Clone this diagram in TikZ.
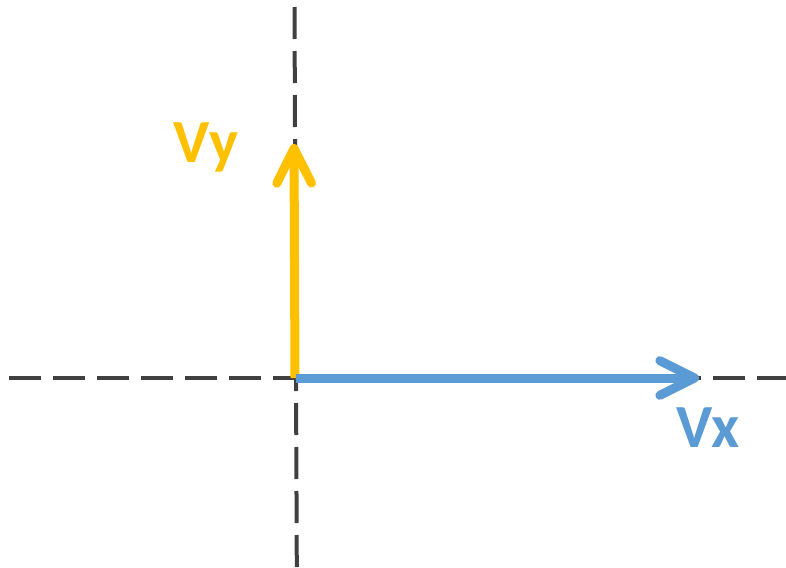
\documentclass[tikz,border=0pt]{standalone}
\usepackage{fontspec}
\setmainfont{Carlito}
\usepackage{xcolor}
\usetikzlibrary{arrows.meta,positioning}

\definecolor{axisgray}{HTML}{404040}
\definecolor{vyyellow}{HTML}{FFC000}
\definecolor{vxblue}{HTML}{5B9BD5}

\begin{document}
\begin{tikzpicture}[
    x=0.75pt, y=-0.75pt,
    axis/.style={draw=axisgray, line width=3pt, dash pattern=on 24pt off 9pt},
    vec/.style={draw=#1, line width=6.75pt, line cap=round, -{Straight Barb[length=26pt, width=26pt, round]}},
    lbl/.style={text=#1, font=\bfseries\fontsize{46}{46}\selectfont, anchor=base, inner sep=0pt}
]
    \useasboundingbox (0,0) rectangle (786,568);

    % axes
    \coordinate (ytop) at (294.5,7);
    \coordinate (ybot) at (296.8,568);
    \coordinate (xleft) at (9,378);
    \coordinate (xright) at (786,378);
    \draw[axis] (ytop) -- (ybot);
    \draw[axis] (xleft) -- (xright);

    % components
    \coordinate (origin) at (295,378);
    \coordinate (vytip) at (294,144);
    \coordinate (vxtip) at (699,378);
    \draw[vec=vyyellow, line cap=butt] (origin) -- (vytip);
    \draw[vec=vxblue, line cap=butt] ([xshift=1pt]origin) -- (vxtip);

    \node[lbl=vyyellow] (vy) at (206,162) {Vy};
    \node[lbl=vxblue] (vx) at (708,447) {Vx};
\end{tikzpicture}
\end{document}
